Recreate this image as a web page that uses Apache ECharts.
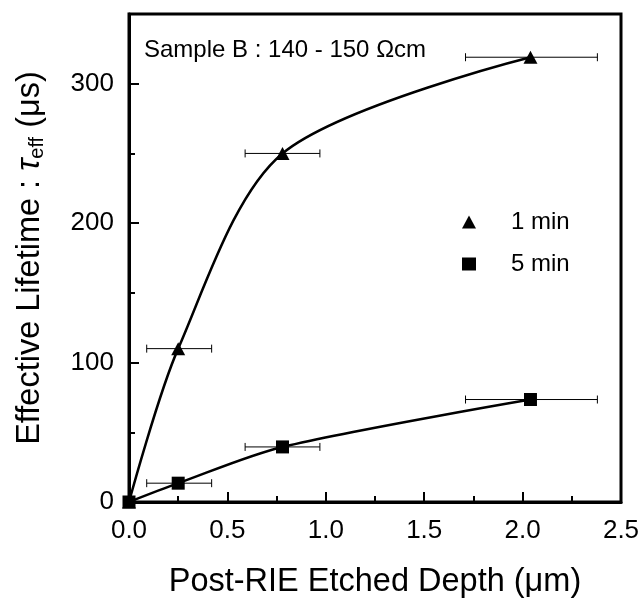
<!DOCTYPE html>
<html>
<head>
<meta charset="utf-8">
<script src="https://cdn.jsdelivr.net/npm/echarts@6/dist/echarts.min.js"></script>
<style>
html,body{margin:0;padding:0;background:#fff;}
#main{width:643px;height:598px;}
</style>
</head>
<body>
<div id="main"></div>
<script>
// Data
const depth = [0, 0.25, 0.78, 2.04];
const tau1min = [0, 110, 250, 319];
const tau5min = [0, 13.5, 39.5, 73.5];
const depthErrLow = [null, 0.09, 0.59, 1.71];
const depthErrHigh = [null, 0.42, 0.97, 2.38];
const seriesNames = ['1 min', '5 min'];
const xTicks = [0, 0.5, 1.0, 1.5, 2.0, 2.5];
const yTicks = [0, 100, 200, 300];
const annotation = 'Sample B : 140 - 150 \u03A9cm';

const FONT = '"Liberation Sans", Arial, Helvetica, sans-serif';

function pairs(xs, ys) { return xs.map((x, i) => [x, ys[i]]); }
function errData(ys) {
  const out = [];
  for (let i = 0; i < depth.length; i++) {
    if (depthErrLow[i] != null) out.push([depth[i], ys[i], depthErrLow[i], depthErrHigh[i]]);
  }
  return out;
}
function errRender(params, api) {
  const y = api.value(1);
  const p1 = api.coord([api.value(2), y]);
  const p2 = api.coord([api.value(3), y]);
  const h = 4;
  const st = { stroke: '#000', lineWidth: 1 };
  return {
    type: 'group',
    children: [
      { type: 'line', shape: { x1: p1[0], y1: p1[1], x2: p2[0], y2: p2[1] }, style: st },
      { type: 'line', shape: { x1: p1[0], y1: p1[1] - h, x2: p1[0], y2: p1[1] + h }, style: st },
      { type: 'line', shape: { x1: p2[0], y1: p2[1] - h, x2: p2[0], y2: p2[1] + h }, style: st }
    ]
  };
}

const chart = echarts.init(document.getElementById('main'));
chart.setOption({
  animation: false,
  backgroundColor: '#fff',
  textStyle: { fontFamily: FONT, color: '#000' },
  title: {
    text: annotation,
    left: 139, top: 33,
    textStyle: { fontFamily: FONT, fontSize: 24, fontWeight: 'normal', color: '#000' }
  },
  legend: {
    orient: 'vertical',
    left: 457, top: 205,
    itemWidth: 14, itemHeight: 13,
    itemGap: 18,
    data: [{ name: seriesNames[0], icon: 'triangle' }, { name: seriesNames[1], icon: 'rect' }],
    textStyle: { fontFamily: FONT, fontSize: 24, color: '#000', padding: [0, 0, 0, 30] }
  },
  grid: {
    left: 129, right: 22, top: 14, bottom: 96,
    outerBoundsMode: 'none', containLabel: false,
    show: true, borderColor: '#000', borderWidth: 3, backgroundColor: 'transparent'
  },
  xAxis: {
    type: 'value', min: 0, max: 2.5, interval: 0.5,
    name: 'Post-RIE Etched Depth (\u03BCm)',
    nameLocation: 'middle', nameGap: 64,
    nameTextStyle: { fontFamily: FONT, fontSize: 32.5, color: '#000' },
    axisLine: { show: true, onZero: false, lineStyle: { color: '#000', width: 3 } },
    axisTick: { show: true, inside: true, length: 10, lineStyle: { color: '#000', width: 2 } },
    minorTick: { show: true, splitNumber: 2, length: 6, lineStyle: { color: '#000', width: 2 } },
    axisLabel: { fontFamily: FONT, fontSize: 26, color: '#000', margin: 16,
      formatter: v => xTicks.includes(v) ? v.toFixed(1) : '' },
    splitLine: { show: false }
  },
  yAxis: {
    type: 'value', min: 0, max: 350, interval: 100,
    name: '{n|Effective Lifetime : }{t|\u03C4}{s|eff}{n| (\u03BCs)}',
    nameLocation: 'middle', nameGap: 82,
    nameTextStyle: {
      fontFamily: FONT, fontSize: 32.5, color: '#000',
      rich: {
        n: { fontFamily: FONT, fontSize: 32.5, color: '#000' },
        t: { fontFamily: FONT, fontSize: 32.5, fontStyle: 'italic', color: '#000' },
        s: { fontFamily: FONT, fontSize: 20, color: '#000', verticalAlign: 'bottom', padding: [14, 0, 0, 0] }
      }
    },
    axisLine: { show: true, onZero: false, lineStyle: { color: '#000', width: 3 } },
    axisTick: { show: true, inside: true, length: 10, lineStyle: { color: '#000', width: 2 } },
    minorTick: { show: true, splitNumber: 2, length: 6, lineStyle: { color: '#000', width: 2 } },
    axisLabel: { fontFamily: FONT, fontSize: 26, color: '#000', margin: 15,
      formatter: v => yTicks.includes(v) ? String(v) : '' },
    splitLine: { show: false }
  },
  series: [
    {
      name: seriesNames[0], type: 'line', data: pairs(depth, tau1min),
      smooth: 0.3,
      symbol: 'triangle', symbolSize: [14, 13],
      lineStyle: { color: '#000', width: 2.5 },
      itemStyle: { color: '#000' }, z: 3
    },
    {
      name: seriesNames[1], type: 'line', data: pairs(depth, tau5min),
      smooth: 0.3,
      symbol: 'rect', symbolSize: 13,
      lineStyle: { color: '#000', width: 2.5 },
      itemStyle: { color: '#000' }, z: 4
    },
    { name: 'err1', type: 'custom', renderItem: errRender, data: errData(tau1min), z: 2 },
    { name: 'err5', type: 'custom', renderItem: errRender, data: errData(tau5min), z: 2 }
  ]
});
</script>
</body>
</html>
